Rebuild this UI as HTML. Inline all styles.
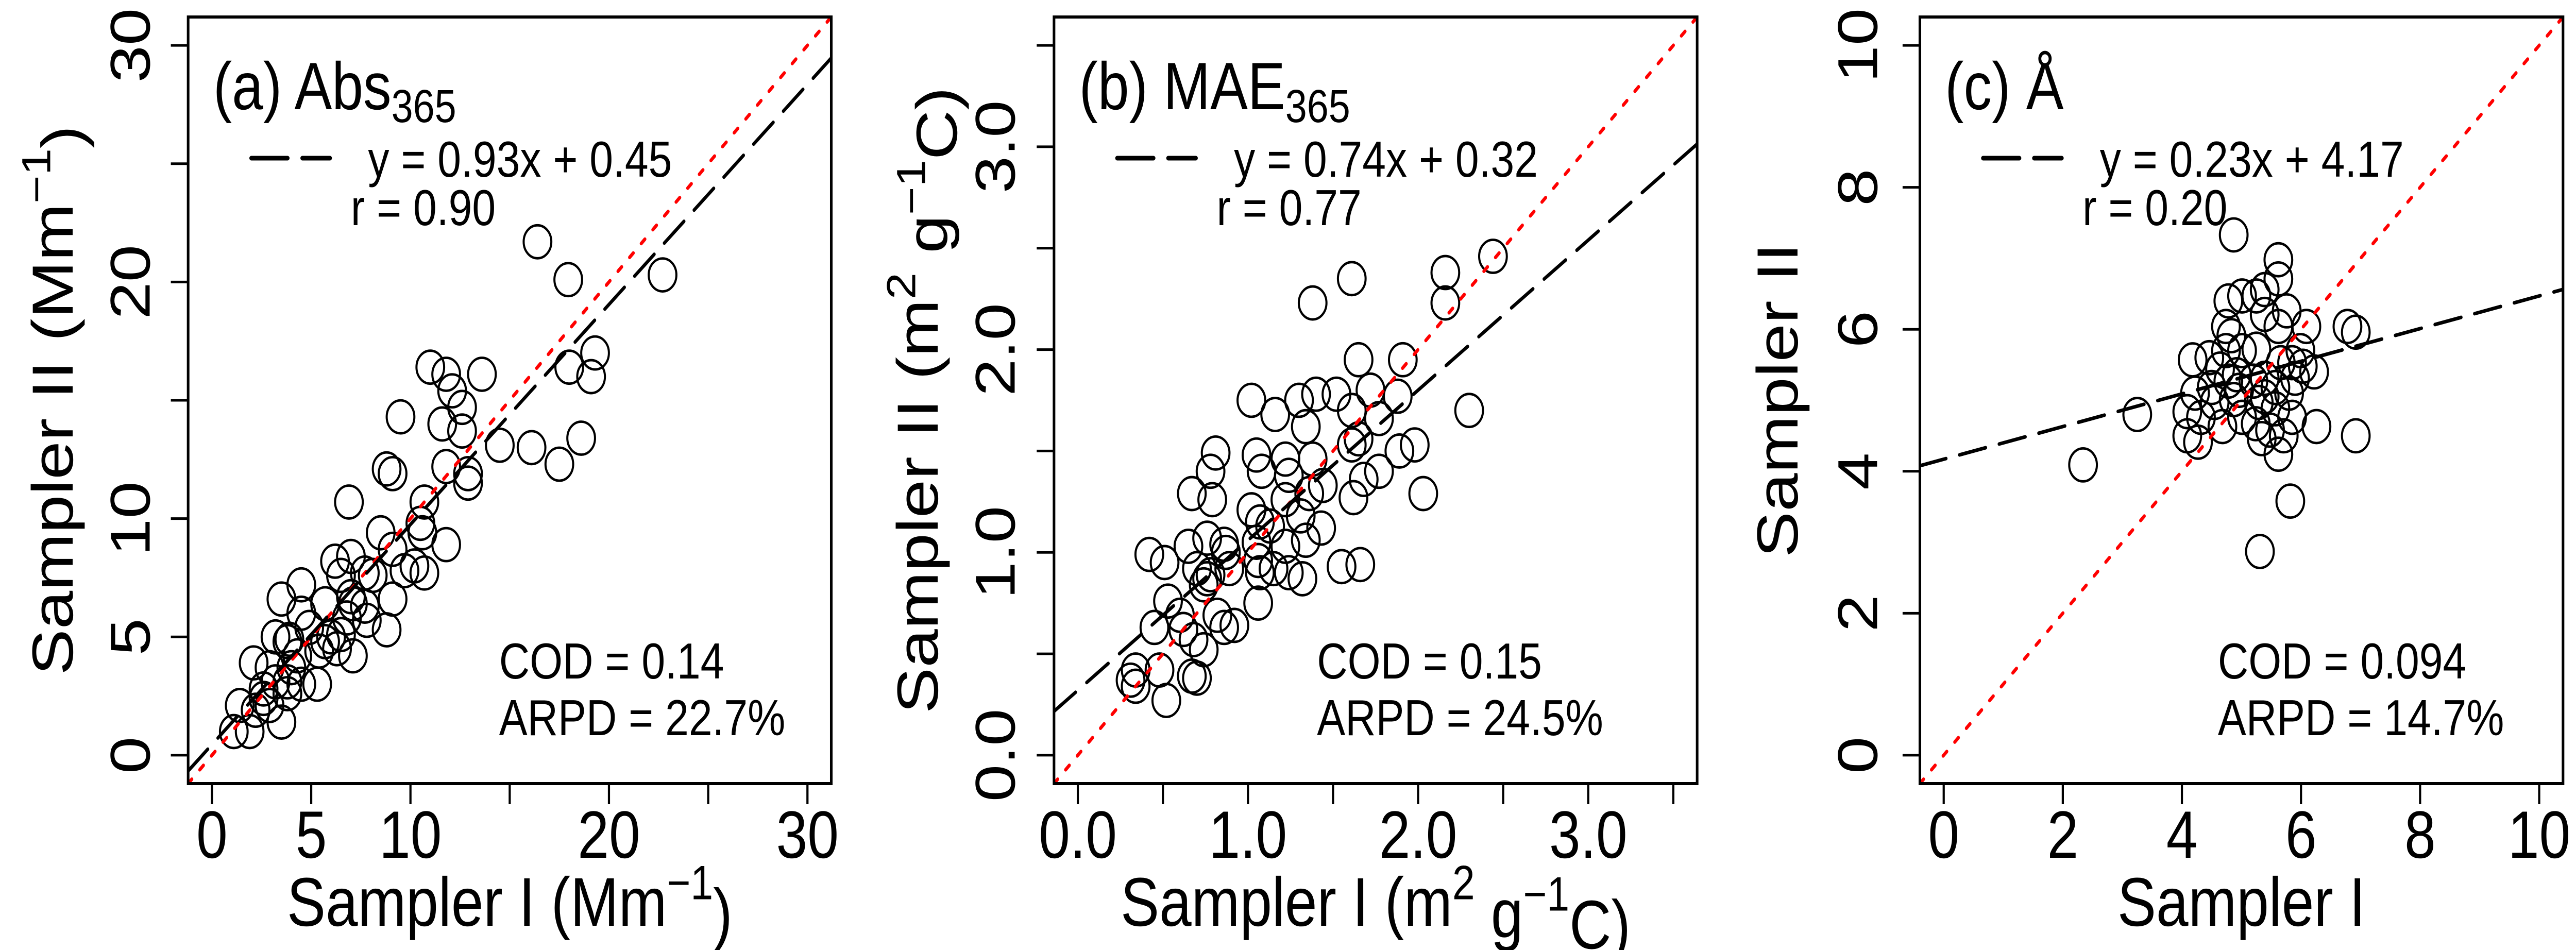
<!DOCTYPE html>
<html><head><meta charset="utf-8"><style>
html,body{margin:0;padding:0;background:#fff;width:100%;height:100%;overflow:hidden;}
svg{display:block;font-family:"Liberation Sans",Arial,sans-serif;overflow:hidden;width:100vw;height:100vh;}
</style></head><body>
<svg id="fig" viewBox="0 0 5956 1844" preserveAspectRatio="none" xmlns="http://www.w3.org/2000/svg"></svg>
<script>
// ---- Panel (a) Abs365 data ----
const absX = [16.4,17.95,22.7,19.3,18.0,19.1,18.6,16.1,17.5,14.5,11.0,11.8,12.1,12.6,13.6,11.6,12.6,9.5,8.8,9.1,11.8,12.9,12.9,6.9,10.7,10.5,10.6,11.8,8.5,9.1,7.0,6.2,7.7,9.7,10.7,10.2,6.5,4.5,3.5,5.7,7.0,7.7,9.1,4.5,6.8,7.8,8.8,3.2,3.9,4.9,5.7,6.3,7.1,4.3,2.1,2.9,4.0,3.8,4.5,5.3,2.6,3.8,1.4,2.2,2.9,3.5,1.1,1.9,8.1,6.0,5.4,3.2,2.6,3.8,7.1,6.5];
const absY = [21.7,20.1,20.3,17.0,16.4,16.0,13.4,13.0,12.3,13.1,16.4,16.1,15.4,14.7,16.1,14.0,13.7,14.3,12.1,11.9,12.2,11.9,11.5,10.7,10.7,9.8,9.4,8.9,9.4,8.7,8.4,8.2,7.7,7.8,7.7,8.0,7.6,7.2,6.6,6.4,6.7,6.3,6.6,6.0,5.8,5.7,5.3,5.0,4.9,5.4,4.8,4.5,4.2,4.2,3.9,3.7,3.7,3.1,3.0,3.0,2.8,2.6,2.1,1.9,2.1,1.4,1.0,1.0,7.6,5.0,4.4,3.1,2.4,4.8,6.4,5.1];
// ---- Panel (b) MAE365 data ----
const maeX = [2.44,1.61,1.38,2.16,2.16,1.65,1.91,2.30,1.02,1.16,1.30,1.40,1.52,1.34,1.61,1.72,1.88,1.77,1.65,1.61,1.89,1.98,1.77,1.68,1.62,2.03,0.81,0.78,0.79,0.67,1.05,1.08,1.22,1.24,1.38,1.36,1.22,1.02,1.31,1.43,1.34,1.22,1.07,1.05,1.13,0.65,0.76,0.86,0.87,0.42,0.51,0.70,0.78,0.89,1.06,1.07,1.15,1.24,1.32,1.55,1.66,1.06,0.53,0.60,0.82,0.92,0.86,0.45,0.62,0.68,0.74,0.48,0.34,0.31,0.34,0.67,0.70,0.52,0.76,0.74,1.44];
const maeY = [2.46,2.35,2.23,2.38,2.23,1.95,1.95,1.70,1.75,1.68,1.75,1.78,1.78,1.62,1.70,1.80,1.77,1.66,1.56,1.53,1.50,1.53,1.40,1.36,1.27,1.29,1.49,1.40,1.26,1.29,1.48,1.40,1.46,1.38,1.46,1.29,1.26,1.21,1.18,1.12,1.06,1.03,1.15,1.05,1.13,1.03,1.07,1.04,1.00,0.99,0.95,0.92,0.89,0.92,0.96,0.90,0.92,0.90,0.87,0.93,0.94,0.75,0.76,0.69,0.69,0.64,0.63,0.63,0.62,0.57,0.52,0.42,0.42,0.37,0.34,0.39,0.38,0.27,0.87,0.84,1.33];
// ---- Panel (c) Angstrom data ----
const angX = [4.87,5.62,5.62,5.39,5.25,4.78,5.01,5.39,5.76,6.09,5.62,4.74,6.78,6.92,4.74,5.01,5.25,4.18,4.46,5.85,6.22,6.03,5.90,4.64,4.92,5.20,5.39,5.57,5.80,4.22,4.50,4.55,4.09,4.32,4.87,5.29,5.57,5.85,5.01,4.68,5.24,5.48,4.09,4.27,5.71,5.34,5.62,6.26,6.92,3.25,2.34,5.82,5.31,4.83,5.99,4.96,5.39,4.78,5.66];
const angY = [7.33,6.98,6.71,6.56,6.47,6.40,6.47,6.21,6.26,6.04,6.04,6.04,6.04,5.96,5.70,5.70,5.72,5.57,5.60,5.53,5.40,5.48,5.31,5.44,5.36,5.27,5.31,5.18,5.10,5.10,5.18,4.97,4.84,4.76,5.01,4.97,4.88,4.76,4.76,4.63,4.67,4.58,4.50,4.41,4.50,4.46,4.24,4.63,4.50,4.80,4.09,3.58,2.87,5.91,5.70,5.14,5.05,5.27,5.53];
// ---- axis ticks / fits ----
const absTicks = [0,5,10,15,20,25,30];
const absTickLabels = ["0","5","10","","20","","30"];
const maeTicks = [0,0.5,1.0,1.5,2.0,2.5,3.0,3.5];
const maeTickLabels = ["0.0","","1.0","","2.0","","3.0",""];
const angTicks = [0,2,4,6,8,10];
const angTickLabels = ["0","2","4","6","8","10"];
const fitSlopes = [0.93,0.74,0.23];
const fitIntercepts = [0.45,0.32,4.17];
const axisMin = [0,0,0];
const axisMax = [30,3.5,10];

const NS = "http://www.w3.org/2000/svg";
const svg = document.getElementById("fig");
const SQ = 1.0;
function mk(tag, attrs, parent){
  const e = document.createElementNS(NS, tag);
  for (const k in attrs) e.setAttribute(k, attrs[k]);
  (parent||svg).appendChild(e);
  return e;
}
function htext(x, y, attrs, parent){
  const a = Object.assign({x:0, y:0, transform:"translate(" + x + "," + y + ") scale(" + SQ + ",1)"}, attrs);
  return mk("text", a, parent);
}
function vtext(x, y, attrs, parent){
  const a = Object.assign({x:0, y:0, transform:"translate(" + x + "," + y + ") rotate(-90) scale(1," + SQ + ")"}, attrs);
  return mk("text", a, parent);
}
const TOP = 33, BOT = 1521, W = 1487;
const panels = [
  {key:"a", left:435, xs:absX, ys:absY, ticks:absTicks, labels:absTickLabels, ytickX:300, ytitleX:121,
   title:["(a) Abs","365"], xtitle:["Sampler I (Mm","−1",")"], ytitle:["Sampler II (Mm","−1",")"],
   cod:["COD = 0.14","ARPD = 22.7%"], codX:1154, eq:"y = 0.93x + 0.45", r:"r = 0.90"},
  {key:"b", left:2437, xs:maeX, ys:maeY, ticks:maeTicks, labels:maeTickLabels, ytickX:2300, ytitleX:2121,
   title:["(b) MAE","365"], xtitle:["Sampler I (m","2"," g","−1","C)"], ytitle:["Sampler II (m","2"," g","−1","C)"],
   cod:["COD = 0.15","ARPD = 24.5%"], codX:3045, eq:"y = 0.74x + 0.32", r:"r = 0.77"},
  {key:"c", left:4439, xs:angX, ys:angY, ticks:angTicks, labels:angTickLabels, ytickX:4294, ytitleX:4109,
   title:["(c) Å",""], xtitle:["Sampler I"], ytitle:["Sampler II"],
   cod:["COD = 0.094","ARPD = 14.7%"], codX:5128, eq:"y = 0.23x + 4.17", r:"r = 0.20"}
];

function fillRich(t, parts){
  parts.forEach((p,i)=>{
    if (p === "") return;
    const sp = mk("tspan", {}, t);
    if (i % 2 === 1) { sp.setAttribute("font-size", "0.7em"); sp.setAttribute("dy", "-0.55em"); }
    else if (i > 0) { sp.setAttribute("dy", "0.55em"); }
    sp.textContent = p;
  });
  return t;
}

panels.forEach((p, pi) => {
  const g = mk("g", {});
  
  
  const lo = axisMin[pi], hi = axisMax[pi], ext = (hi - lo) * 0.04;
  const dmin = lo - ext, dmax = hi + ext;
  const sx = v => p.left + (v - dmin) / (dmax - dmin) * W;
  const sy = v => BOT - (v - dmin) / (dmax - dmin) * (BOT - TOP);

  const cp = mk("clipPath", {id:"clip-" + p.key}, g);
  mk("rect", {x:p.left, y:TOP, width:W, height:BOT-TOP}, cp);

  const pts = mk("g", {"clip-path":"url(#clip-" + p.key + ")"}, g);
  
  
  p.xs.forEach((xv, i) => {
    const c = mk("circle", {cx:sx(xv), cy:sy(p.ys[i]), r:32, fill:"none", stroke:"#000", "stroke-width":4.8}, pts);
    
    
  });

  const one = mk("line", {x1:sx(dmin), y1:sy(dmin), x2:sx(dmax), y2:sy(dmax), stroke:"#f00", "stroke-width":7,
    "stroke-dasharray":"12 26", "stroke-linecap":"round", "clip-path":"url(#clip-" + p.key + ")"}, g);
  
  

  const m = fitSlopes[pi], b = fitIntercepts[pi];
  const fit = mk("line", {x1:sx(dmin), y1:sy(m*dmin+b), x2:sx(dmax), y2:sy(m*dmax+b), stroke:"#000", "stroke-width":7,
    "stroke-dasharray":"62 32", "stroke-linecap":"round", "clip-path":"url(#clip-" + p.key + ")"}, g);
  
  

  const box = mk("rect", {x:p.left, y:TOP, width:W, height:BOT-TOP, fill:"none", stroke:"#000", "stroke-width":6}, g);
  
  

  p.ticks.forEach((tv, i) => {
    const xt = mk("line", {x1:sx(tv), y1:BOT, x2:sx(tv), y2:BOT+40, stroke:"#000", "stroke-width":5}, g);
    
    
    const yt = mk("line", {x1:p.left, y1:sy(tv), x2:p.left-40, y2:sy(tv), stroke:"#000", "stroke-width":5}, g);
    
    
    if (p.labels[i] !== "") {
      const xl = htext(sx(tv), 1665, {"font-size":130, "text-anchor":"middle"}, g);
      xl.textContent = p.labels[i];
      
      
      const yl = vtext(p.ytickX + 46, sy(tv), {"font-size":130, "text-anchor":"middle"}, g);
      yl.textContent = p.labels[i];
      
      
    }
  });

  const xtl = fillRich(htext(p.left + W/2, 1797, {"font-size":134, "text-anchor":"middle"}, g), p.xtitle);
  
  
  const ytl = fillRich(vtext(p.ytitleX + 47, (TOP+BOT)/2, {"font-size":134, "text-anchor":"middle"}, g), p.ytitle);
  
  

  const tt = htext(p.left + 58, 212, {"font-size":130}, g);
  const t1 = mk("tspan", {}, tt); t1.textContent = p.title[0];
  if (p.title[1]) { const t2 = mk("tspan", {"font-size":90, dy:25}, tt); t2.textContent = p.title[1]; }
  
  

  const lk = mk("line", {x1:p.left+146, y1:307, x2:p.left+328, y2:307, stroke:"#000", "stroke-width":9,
    "stroke-dasharray":"84 34", "stroke-linecap":"round"}, g);
  
  
  const eq = htext(p.left+416, 343, {"font-size":98}, g);
  eq.textContent = p.eq;
  
  
  const rr = htext(p.left+376, 437, {"font-size":98}, g);
  rr.textContent = p.r;
  
  

  const c1 = htext(p.codX, 1317, {"font-size":98}, g);
  c1.textContent = p.cod[0];
  
  
  const c2 = htext(p.codX, 1427, {"font-size":98}, g);
  c2.textContent = p.cod[1];
  
  
});
</script>
</body></html>
